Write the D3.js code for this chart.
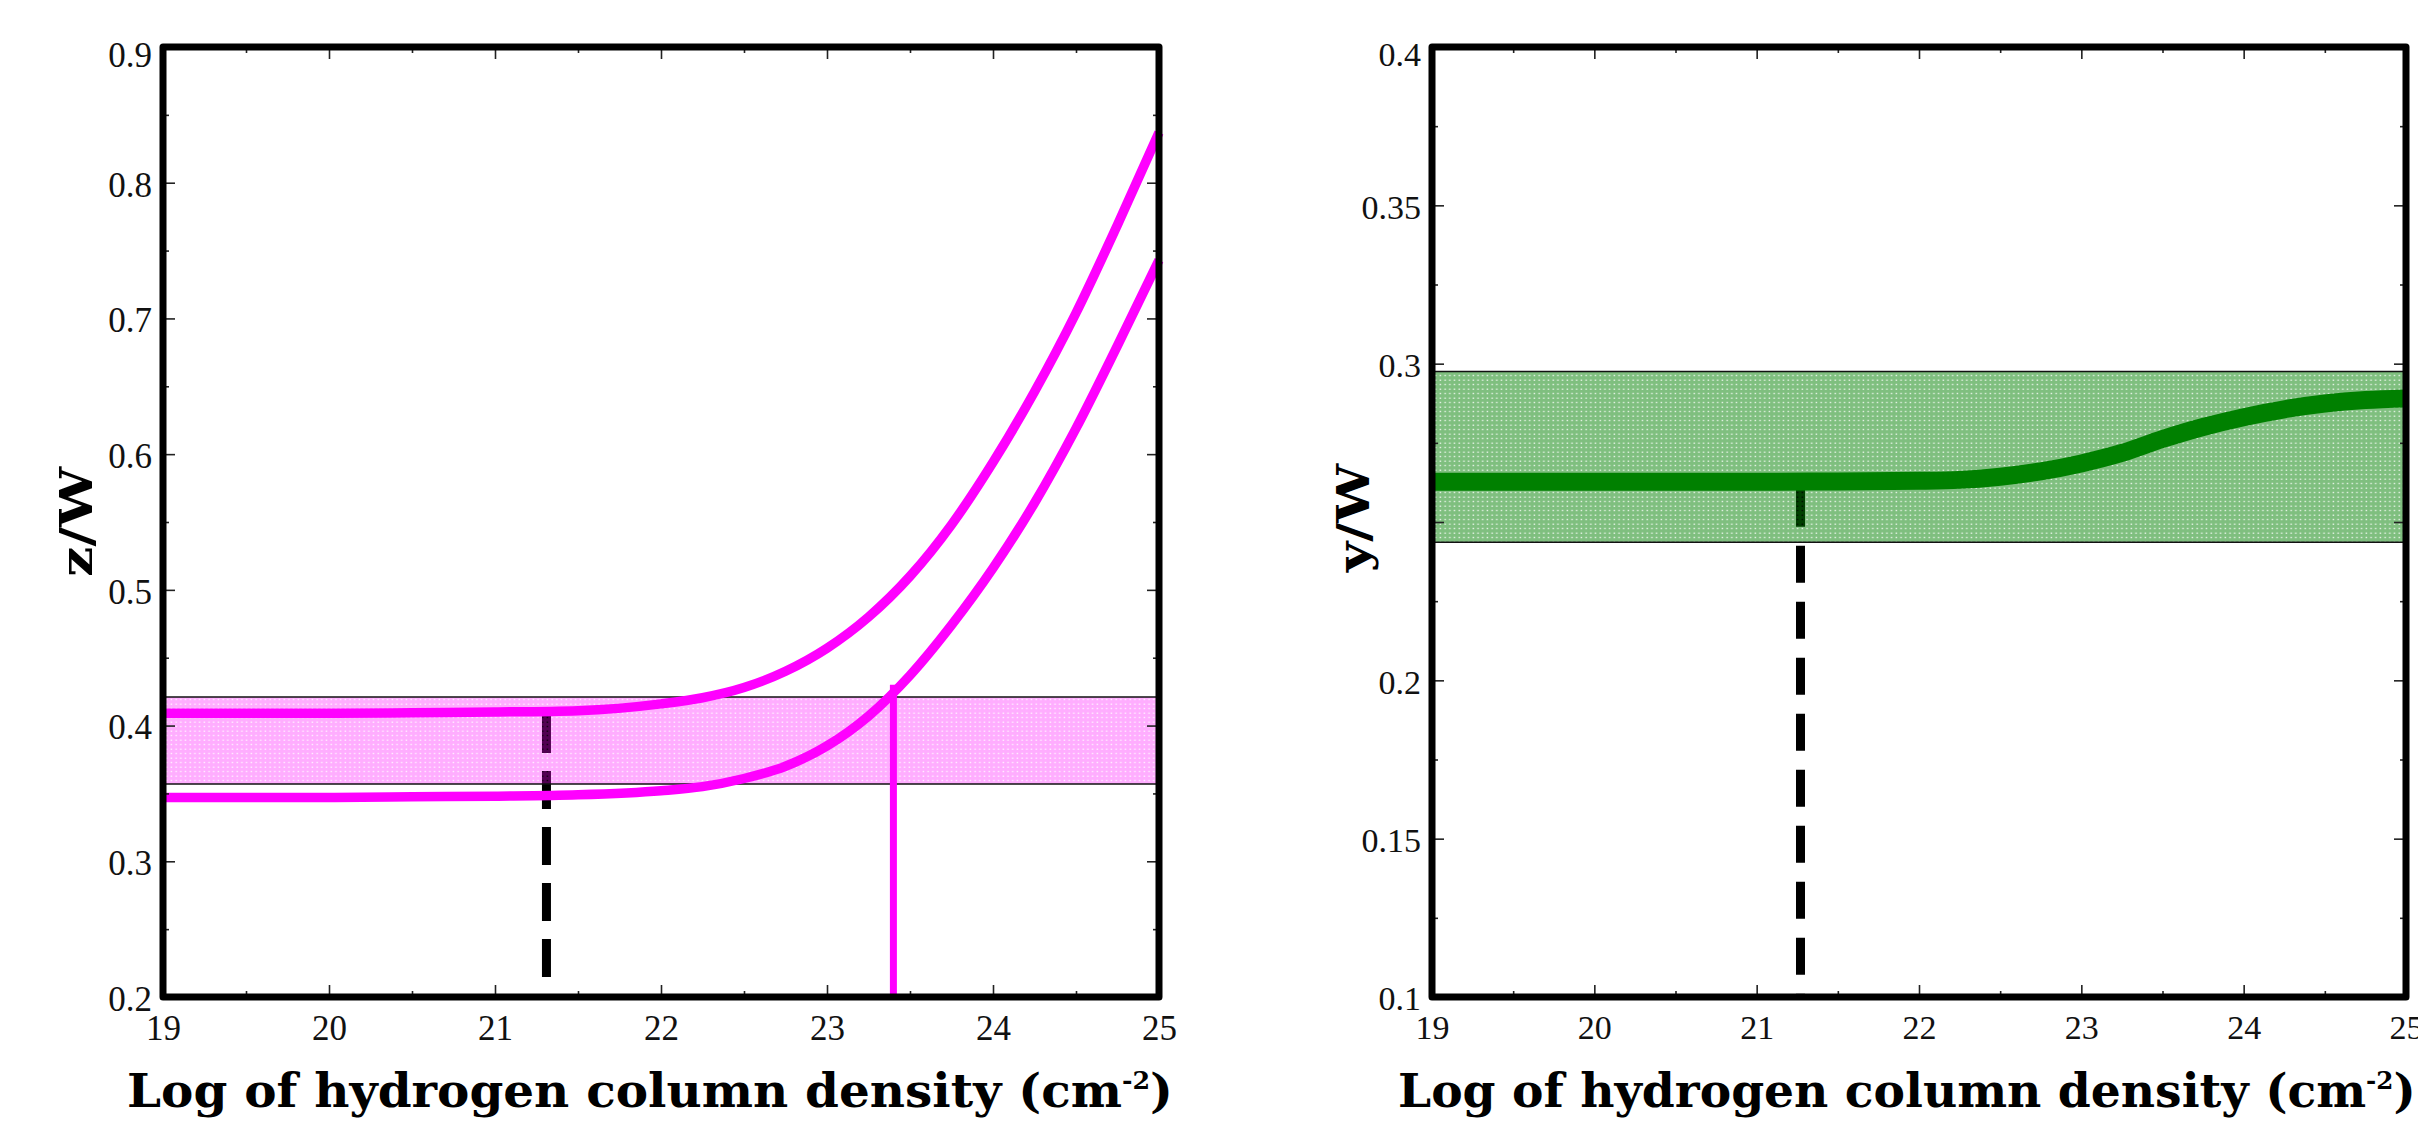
<!DOCTYPE html>
<html>
<head>
<meta charset="utf-8">
<script src="https://cdn.jsdelivr.net/npm/d3@7"></script>
<style>
  html, body { margin: 0; padding: 0; background: #fff; }
  svg { display: block; }
</style>
</head>
<body>
<svg id="chart" width="2418" height="1125"></svg>
<script>
// ---- data -------------------------------------------------------------
// Log of hydrogen column density grid (cm^-2)
const logNH = [19, 19.5, 20, 20.5, 21, 21.5, 22, 22.25, 22.5, 22.75, 23, 23.25, 23.5, 23.75, 24, 24.25, 24.5, 24.75, 25];

// z/W ratio, upper and lower model tracks
const zUpper = [0.409, 0.409, 0.409, 0.4095, 0.410, 0.411, 0.416, 0.4205, 0.428, 0.440, 0.457, 0.480, 0.510, 0.548, 0.594, 0.646, 0.704, 0.769, 0.837];
const zLower = [0.347, 0.347, 0.347, 0.3475, 0.348, 0.349, 0.352, 0.355, 0.361, 0.370, 0.385, 0.407, 0.437, 0.474, 0.516, 0.564, 0.619, 0.680, 0.743];

// y/W ratio model track
const yRatio = [0.2627, 0.2627, 0.2627, 0.2627, 0.2627, 0.2628, 0.2630, 0.2633, 0.2643, 0.2660, 0.2685, 0.2718, 0.2762, 0.2800, 0.2831, 0.2856, 0.2874, 0.2885, 0.2890];

// observed ranges (shaded bands)
const zBand = [0.357, 0.421];
const yBand = [0.2436, 0.2975];

// marker lines: [logNH, bottom value, top value]
const zDashed = [21.31, 0.2, 0.41];
const zCross  = [23.40, 0.2, 0.43];
const yDashed = [21.27, 0.1, 0.2627];

// axis ticks and their labels
const xTicks = [19, 20, 21, 22, 23, 24, 25];
const xMinor = [19.5, 20.5, 21.5, 22.5, 23.5, 24.5];
const zTicks = [0.2, 0.3, 0.4, 0.5, 0.6, 0.7, 0.8, 0.9];
const zTickLabels = ["0.2", "0.3", "0.4", "0.5", "0.6", "0.7", "0.8", "0.9"];
const zMinor = [0.25, 0.35, 0.45, 0.55, 0.65, 0.75, 0.85];
const yTicks = [0.1, 0.15, 0.2, 0.25, 0.3, 0.35, 0.4];
const yTickLabels = ["0.1", "0.15", "0.2", "", "0.3", "0.35", "0.4"];
const yMinor = [0.125, 0.175, 0.225, 0.275, 0.325, 0.375];

const xTitle = "Log of hydrogen column density (cm";
const xTitleSup = "-2";

// ---- drawing ----------------------------------------------------------
const svg = d3.select("#chart");
svg.append("rect").attr("width", 2418).attr("height", 1125).attr("fill", "#fff");
const defs = svg.append("defs");

// stippled band fill: colour cells with small open dots
function stipple(id, color, opacity) {
  const pw = 4.7, ph = 4.5;
  const p = defs.append("pattern")
    .attr("id", id)
    .attr("patternUnits", "userSpaceOnUse")
    .attr("width", pw).attr("height", ph);
  p.append("path")
    .attr("d", `M0,0H${pw}V${ph}H0Z M1.5,1.6h1.5v1.2h-1.5Z`)
    .attr("fill-rule", "evenodd")
    .attr("fill", color)
    .attr("fill-opacity", opacity);
}
stipple("dotsMagenta", "#ff00ff", 0.32);
stipple("dotsGreen", "#008000", 0.5);

function panel(cfg) {
  const x = d3.scaleLinear().domain([19, 25]).range([cfg.x0, cfg.x1]);
  const y = d3.scaleLinear().domain(cfg.yDomain).range([cfg.y1, cfg.y0]);
  const g = svg.append("g");
  const fs = cfg.fontSize;

  // dashed marker (under the band)
  const vline = d3.line().x(d => x(d[0])).y(d => y(d[1]));
  cfg.dashed.forEach(m => {
    g.append("path")
      .attr("d", vline([[m.v[0], m.v[2]], [m.v[0], m.v[1]]]))
      .attr("stroke", "#000").attr("stroke-width", 9)
      .attr("stroke-dasharray", m.dash).attr("stroke-dashoffset", m.offset)
      .attr("fill", "none");
  });

  // observed band
  g.append("rect")
    .attr("x", x(19)).attr("width", x(25) - x(19))
    .attr("y", y(cfg.band[1])).attr("height", y(cfg.band[0]) - y(cfg.band[1]))
    .attr("fill", `url(#${cfg.pattern})`);
  [cfg.band[0], cfg.band[1]].forEach(v => {
    g.append("line")
      .attr("x1", x(19)).attr("x2", x(25))
      .attr("y1", y(v)).attr("y2", y(v))
      .attr("stroke", "#111").attr("stroke-width", 1.5);
  });

  // solid marker lines
  cfg.solid.forEach(m => {
    g.append("path")
      .attr("d", vline([[m.v[0], m.v[2]], [m.v[0], m.v[1]]]))
      .attr("stroke", m.color).attr("stroke-width", m.width).attr("fill", "none");
  });

  // model curves
  const line = d3.line().x((d, i) => x(logNH[i])).y(d => y(d)).curve(d3.curveMonotoneX);
  cfg.series.forEach(s => {
    g.append("path")
      .attr("d", line(s.values))
      .attr("fill", "none")
      .attr("stroke", s.color)
      .attr("stroke-width", s.width)
      .attr("stroke-linecap", "butt");
  });

  // ticks on all four sides, pointing inward
  const tickStyle = sel => {
    sel.select(".domain").remove();
    sel.selectAll(".tick line").attr("stroke", "#222").attr("stroke-width", 1.6);
  };
  const mk = 12, mn = 6;
  g.append("g").attr("transform", `translate(0,${cfg.y1})`)
    .call(d3.axisBottom(x).tickValues(xMinor).tickSize(-mn).tickFormat("")).call(tickStyle);
  g.append("g").attr("transform", `translate(0,${cfg.y0})`)
    .call(d3.axisTop(x).tickValues(xMinor).tickSize(-mn).tickFormat("")).call(tickStyle);
  g.append("g").attr("transform", `translate(0,${cfg.y0})`)
    .call(d3.axisTop(x).tickValues(xTicks).tickSize(-mk).tickFormat("")).call(tickStyle);
  g.append("g").attr("transform", `translate(${cfg.x0},0)`)
    .call(d3.axisLeft(y).tickValues(cfg.yMinor).tickSize(-mn).tickFormat("")).call(tickStyle);
  g.append("g").attr("transform", `translate(${cfg.x1},0)`)
    .call(d3.axisRight(y).tickValues(cfg.yMinor).tickSize(-mn).tickFormat("")).call(tickStyle);
  g.append("g").attr("transform", `translate(${cfg.x1},0)`)
    .call(d3.axisRight(y).tickValues(cfg.yTicks).tickSize(-mk).tickFormat("")).call(tickStyle);

  const xa = g.append("g").attr("transform", `translate(0,${cfg.y1})`)
    .call(d3.axisBottom(x).tickValues(xTicks).tickSize(-mk).tickPadding(18).tickFormat(d3.format("d")))
    .call(tickStyle);
  xa.selectAll("text")
    .attr("font-family", "'Liberation Serif', 'Times New Roman', serif")
    .attr("font-size", fs).attr("fill", "#111");

  const ya = g.append("g").attr("transform", `translate(${cfg.x0},0)`)
    .call(d3.axisLeft(y).tickValues(cfg.yTicks).tickSize(-mk).tickPadding(11)
      .tickFormat((d, i) => cfg.yLabels[i]))
    .call(tickStyle);
  ya.selectAll("text")
    .attr("font-family", "'Liberation Serif', 'Times New Roman', serif")
    .attr("font-size", fs).attr("fill", "#111").attr("dy", "0.38em");
  ya.selectAll(".tick").filter((d, i, n) => i === n.length - 1).select("text").attr("dy", "0.55em");

  // frame
  g.append("rect")
    .attr("x", cfg.x0).attr("y", cfg.y0)
    .attr("width", cfg.x1 - cfg.x0).attr("height", cfg.y1 - cfg.y0)
    .attr("fill", "none").attr("stroke", "#000").attr("stroke-width", 7)
    .attr("stroke-linejoin", "round");

  // y title
  g.append("text")
    .attr("transform", `translate(${cfg.yTitleX},${cfg.yTitleY}) rotate(-90)`)
    .attr("text-anchor", "middle")
    .attr("font-family", "'DejaVu Serif', serif").attr("font-weight", "bold")
    .attr("font-size", cfg.yTitleSize)
    .attr("textLength", cfg.yTitleLen).attr("lengthAdjust", "spacingAndGlyphs")
    .attr("fill", "#000")
    .text(cfg.yTitle);

  // x title with superscript
  const t = g.append("text")
    .attr("font-family", "'DejaVu Serif', serif").attr("font-weight", "bold")
    .attr("font-size", 46).attr("fill", "#000");
  t.append("tspan").text(xTitle);
  t.append("tspan").attr("font-size", 24).attr("dy", -18).text(xTitleSup);
  t.append("tspan").attr("dy", 18).text(")");
  const bb = t.node().getBBox();
  const sx = (cfg.titleX1 - cfg.titleX0) / bb.width;
  t.attr("transform", `translate(${cfg.titleX0 - bb.x * sx},${cfg.titleBase}) scale(${sx},1)`);
}

panel({
  x0: 163, x1: 1159, y0: 47, y1: 997,
  yDomain: [0.2, 0.9], yTicks: zTicks, yLabels: zTickLabels, yMinor: zMinor,
  fontSize: 35,
  band: zBand, pattern: "dotsMagenta",
  dashed: [{ v: zDashed, dash: "38,18", offset: -3 }],
  solid: [{ v: zCross, color: "#ff00ff", width: 7 }],
  series: [
    { values: zUpper, color: "#ff00ff", width: 9.5 },
    { values: zLower, color: "#ff00ff", width: 9.5 }
  ],
  yTitle: "z/W", yTitleX: 92, yTitleY: 522, yTitleSize: 44, yTitleLen: 110,
  titleX0: 127, titleX1: 1173, titleBase: 1107
});

panel({
  x0: 1432, x1: 2406, y0: 47, y1: 997,
  yDomain: [0.1, 0.4], yTicks: yTicks, yLabels: yTickLabels, yMinor: yMinor,
  fontSize: 34,
  band: yBand, pattern: "dotsGreen",
  dashed: [{ v: yDashed, dash: "37,19", offset: -8 }],
  solid: [],
  series: [
    { values: yRatio, color: "#008000", width: 18 }
  ],
  yTitle: "y/W", yTitleX: 1369, yTitleY: 518, yTitleSize: 44, yTitleLen: 108,
  titleX0: 1398, titleX1: 2416, titleBase: 1107
});
</script>
</body>
</html>
